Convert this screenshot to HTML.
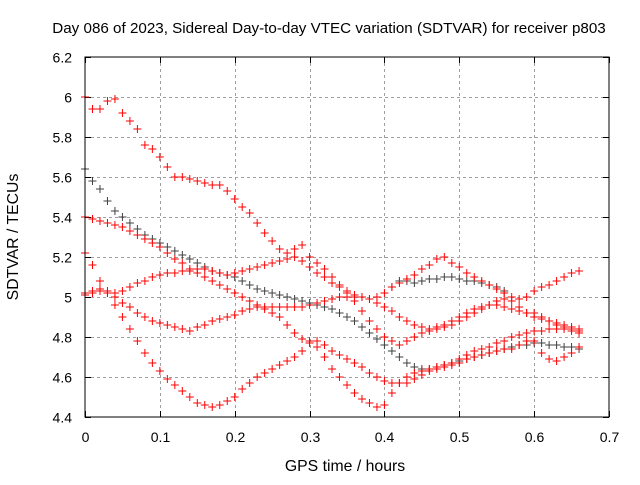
<!DOCTYPE html>
<html><head><meta charset="utf-8"><style>
body{margin:0;background:#fff}
svg text{font-family:"Liberation Sans",sans-serif;font-size:14px;fill:#000}
</style></head><body>
<svg id="chart" width="640" height="480">
<rect width="640" height="480" fill="#fff"/>
<text x="329" y="33" text-anchor="middle" style="font-size:15.2px">Day 086 of 2023, Sidereal Day-to-day VTEC variation (SDTVAR) for receiver p803</text>
<text x="345" y="471" text-anchor="middle" style="font-size:15.8px">GPS time / hours</text>
<text transform="translate(18,237) rotate(-90)" text-anchor="middle" style="font-size:15.8px">SDTVAR / TECUs</text>
<g id="grid"></g><g id="ticks"></g><g id="marks"></g>
<rect x="85" y="57" width="524" height="360" fill="none" stroke="#000" stroke-width="1"/>
</svg>
<script>
const xTicks=[0,0.1,0.2,0.3,0.4,0.5,0.6,0.7];
const xTickLabels=["0","0.1","0.2","0.3","0.4","0.5","0.6","0.7"];
const yTicks=[4.4,4.6,4.8,5,5.2,5.4,5.6,5.8,6,6.2];
const yTickLabels=["4.4","4.6","4.8","5","5.2","5.4","5.6","5.8","6","6.2"];
const timeStep=0.01;
const s1=[6.00,5.94,5.94,5.98,5.99,5.92,5.88,5.84,5.76,5.74,5.70,5.65,5.60,5.60,5.59,5.58,5.57,5.56,5.56,5.53,5.49,5.45,5.42,5.37,5.32,5.28,5.24,5.22,5.24,5.26,5.20,5.17,5.14,5.10,5.06,5.02,4.98,4.93,4.88,4.84,4.80,4.78,4.76,4.78,4.80,4.82,4.83,4.85,4.86,4.88,4.90,4.92,4.94,4.95,4.96,4.96,4.95,4.94,4.93,4.92,4.92,4.90,4.88,4.86,4.85,4.84,4.83];
const s2=[5.64,5.58,5.54,5.48,5.43,5.40,5.37,5.34,5.31,5.29,5.27,5.25,5.23,5.21,5.19,5.17,5.15,5.13,5.12,5.11,5.10,5.08,5.06,5.04,5.03,5.02,5.01,5.00,4.99,4.98,4.97,4.96,4.95,4.94,4.92,4.90,4.88,4.85,4.82,4.79,4.76,4.73,4.70,4.67,4.65,4.64,4.64,4.65,4.66,4.67,4.68,4.69,4.70,4.71,4.72,4.73,4.74,4.75,4.76,4.76,4.77,4.77,4.76,4.76,4.75,4.75,4.74];
const s3=[5.40,5.39,5.38,5.37,5.36,5.35,5.33,5.31,5.29,5.27,5.25,5.22,5.19,5.17,5.14,5.12,5.10,5.08,5.06,5.04,5.02,5.00,4.98,4.96,4.94,4.92,4.90,4.86,4.82,4.79,4.78,4.75,4.70,4.64,4.60,4.56,4.52,4.49,4.47,4.45,4.46,4.52,4.57,4.60,4.62,4.63,4.64,4.65,4.66,4.67,4.69,4.71,4.73,4.74,4.75,4.77,4.78,4.80,4.81,4.82,4.83,4.83,4.84,4.84,4.84,4.83,4.82];
const s4=[5.22,5.16,5.08,5.02,4.96,4.90,4.84,4.78,4.72,4.67,4.63,4.59,4.56,4.53,4.50,4.47,4.46,4.45,4.46,4.48,4.50,4.54,4.57,4.60,4.62,4.64,4.66,4.68,4.70,4.73,4.77,4.78,4.76,4.73,4.71,4.69,4.67,4.65,4.62,4.60,4.58,4.57,4.57,4.57,4.59,4.61,4.63,4.64,4.65,4.66,4.67,4.69,4.70,4.71,4.72,4.73,4.74,4.74,4.76,4.78,4.78,4.72,4.69,4.68,4.70,4.72,4.75];
const s5=[5.01,5.02,5.03,5.03,5.02,5.03,5.05,5.07,5.08,5.10,5.11,5.12,5.12,5.13,5.13,5.14,5.14,5.13,5.12,5.11,5.12,5.13,5.14,5.15,5.16,5.17,5.18,5.19,5.20,5.18,5.15,5.12,5.10,5.07,5.05,5.03,5.01,5.00,4.99,5.00,5.02,5.05,5.07,5.09,5.11,5.14,5.16,5.19,5.20,5.17,5.15,5.12,5.10,5.08,5.06,5.04,5.02,5.00,4.99,5.00,5.03,5.05,5.06,5.08,5.10,5.12,5.13];
const s6=[5.02,5.03,5.04,5.02,5.00,4.97,4.95,4.92,4.90,4.88,4.87,4.86,4.85,4.84,4.83,4.85,4.86,4.88,4.89,4.90,4.91,4.93,4.94,4.95,4.95,4.95,4.95,4.95,4.95,4.95,4.96,4.97,4.98,4.99,5.00,5.00,5.00,5.00,4.99,4.97,4.95,4.93,4.90,4.88,4.86,4.85,4.84,4.84,4.85,4.86,4.88,4.90,4.92,4.94,4.96,4.98,4.99,4.98,4.95,4.92,4.90,4.89,4.88,4.87,4.86,4.85,4.84];
const s7Start=0.41;
const s7=[5.05,5.08,5.08,5.07,5.08,5.09,5.09,5.10,5.10,5.09,5.08,5.08,5.07,5.06,5.05,5.03];

const NS="http://www.w3.org/2000/svg";
const X0=85,X1=609,Y0=417,Y1=57,xMin=0,xMax=0.7,yMin=4.4,yMax=6.2;
const xs=v=>X0+(v-xMin)/(xMax-xMin)*(X1-X0);
const ys=v=>Y0-(v-yMin)/(yMax-yMin)*(Y0-Y1);
function mk(tag,attrs,parent){const e=document.createElementNS(NS,tag);for(const k in attrs)e.setAttribute(k,attrs[k]);parent.appendChild(e);return e;}
const grid=document.getElementById('grid'),ticks=document.getElementById('ticks'),marks=document.getElementById('marks');
xTicks.forEach((t,i)=>{const x=Math.round(xs(t))+0.5;
 if(i>0&&i<xTicks.length-1){const g=mk('line',{x1:x,x2:x,y1:Y1,y2:Y0,stroke:'#a0a0a0','stroke-dasharray':'3,3'},grid);
 
 }
 const tk=mk('path',{d:`M${x},${Y0}v-6M${x},${Y1}v6`,stroke:'#000'},ticks);
 
 
 const tx=mk('text',{x:x,y:442,'text-anchor':'middle'},ticks);tx.textContent=xTickLabels[i];
 
 });
yTicks.forEach((t,i)=>{const y=Math.round(ys(t))+0.5;
 if(i>0&&i<yTicks.length-1){const g=mk('line',{x1:X0,x2:X1,y1:y,y2:y,stroke:'#a0a0a0','stroke-dasharray':'3,3'},grid);
 
 }
 const tk=mk('path',{d:`M${X0},${y}h6M${X1},${y}h-6`,stroke:'#000'},ticks);
 
 
 const tx=mk('text',{x:72,y:y+5,'text-anchor':'end'},ticks);tx.textContent=yTickLabels[i];
 
 });
function series(vals,start,color,name){vals.forEach((v,i)=>{const x=xs(start+i*timeStep),y=ys(v);
 const p=mk('path',{d:`M${x-4},${y}h8M${x},${y-4}v8`,stroke:color,'stroke-width':1},marks);
 
 });}
series(s2,0,'#404040','series-2-point');
series(s7,s7Start,'#404040','series-7-point');
series(s1,0,'#ff0000','series-1-point');
series(s3,0,'#ff0000','series-3-point');
series(s4,0,'#ff0000','series-4-point');
series(s5,0,'#ff0000','series-5-point');
series(s6,0,'#ff0000','series-6-point');
</script>
</body></html>
